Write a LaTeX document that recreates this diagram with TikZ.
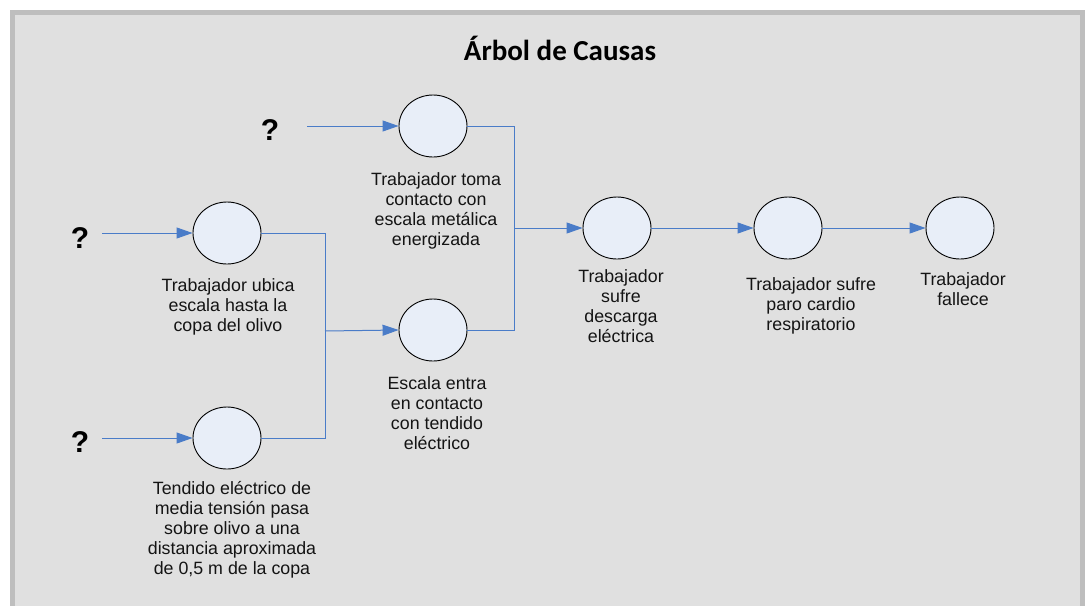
\documentclass[tikz,border=0pt]{standalone}
\usepackage{fontspec}
\setmainfont{Liberation Sans}
\newfontfamily\titlefont{Carlito}
\usetikzlibrary{shapes.geometric,arrows.meta}
\definecolor{bgray}{HTML}{E0E0E0}
\definecolor{frgray}{HTML}{BEBEBE}
\definecolor{cblue}{HTML}{4A7CC8}
\definecolor{efill}{HTML}{E8EEF8}
\tikzset{
  evt/.style={ellipse,draw=black,line width=0.9pt,fill=efill,minimum width=68pt,minimum height=62pt,inner sep=0pt},
  lbl/.style={align=center,inner sep=0pt,font=\fontsize{17.8}{20}\selectfont,text=black!92},
  qm/.style={inner sep=0pt,font=\fontsize{30}{32}\selectfont\bfseries},
  conn/.style={draw=cblue,line width=1pt},
  arr/.style={conn,-{Triangle[length=16pt,width=11pt]}}
}
\begin{document}
\begin{tikzpicture}[x=1pt,y=-1pt]
\useasboundingbox (0,0) rectangle (1085,606);
\fill[frgray] (10,10) rectangle (1085,606);
\fill[bgray] (15,15) rectangle (1080,606);
\node[font=\titlefont\fontsize{29}{32}\selectfont\bfseries] (title) at (560,48) {Árbol de Causas};
% events
\node[evt] (e1) at (433,126) {};
\node[evt] (e2) at (227,233) {};
\node[evt] (e3) at (433,330) {};
\node[evt] (e4) at (227,438) {};
\node[evt] (e5) at (617,228) {};
\node[evt] (e6) at (788,228) {};
\node[evt] (e7) at (960,228) {};
% labels
\node[lbl] (l1) at (436,211) {Trabajador toma\\contacto con\\escala metálica\\energizada};
\node[lbl] (l2) at (228,307) {Trabajador ubica\\escala hasta la\\copa del olivo};
\node[lbl] (l3) at (437,413) {Escala entra\\en contacto\\con tendido\\eléctrico};
\node[lbl] (l4) at (232,530) {Tendido eléctrico de\\media tensión pasa\\sobre olivo a una\\distancia aproximada\\de 0,5 m de la copa};
\node[lbl] (l5) at (621,306) {Trabajador\\sufre\\descarga\\eléctrica};
\node[lbl] (l6) at (811,306) {Trabajador sufre\\paro cardio\\respiratorio};
\node[lbl] (l7) at (963,289) {Trabajador\\fallece};
% question marks
\node[qm] (q1) at (270,130) {?};
\node[qm] (q2) at (80,238) {?};
\node[qm] (q3) at (80,442) {?};
\coordinate (s1) at (307,126);
\coordinate (s2) at (102,233);
\coordinate (s3) at (102,438);
\coordinate (j1) at (325,331);
\coordinate (j2) at (514,228);
% connectors
\draw[arr] (s1) -- (e1.west);
\draw[arr] (s2) -- (e2.west);
\draw[arr] (s3) -- (e4.west);
\draw[conn] (e2.east) -| (j1);
\draw[conn] (e4.east) -| (j1);
\draw[arr] (j1) -- (e3.west);
\draw[conn] (e1.east) -| (j2);
\draw[conn] (e3.east) -| (j2);
\draw[arr] (j2) -- (e5.west);
\draw[arr] (e5.east) -- (e6.west);
\draw[arr] (e6.east) -- (e7.west);
\end{tikzpicture}
\end{document}
